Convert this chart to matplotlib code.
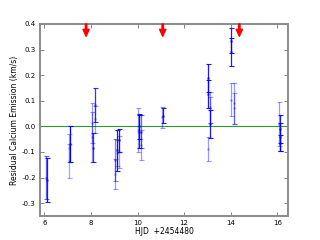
import matplotlib
matplotlib.use("Agg")
import matplotlib.pyplot as plt

plt.rcParams['axes.unicode_minus'] = False
plt.rcParams['font.family'] = ['DejaVu Sans']

# data: HJD - 2454480, residual emission, error, opacity
hjd = [6.08, 6.10,
       7.08, 7.07, 7.07,
       8.06, 8.06, 8.07, 8.17, 8.19,
       9.03, 9.03, 9.12, 9.13, 9.19, 9.20,
       10.03, 10.04, 10.04, 10.15, 10.15,
       11.06, 11.08,
       13.04, 13.04, 13.11, 13.13, 13.11, 13.04,
       14.02, 14.02, 14.00, 14.14, 14.14,
       16.09, 16.10, 16.10, 16.10]
resid = [-0.200, -0.210,
         -0.070, -0.135, -0.086,
         0.012, -0.043, -0.084, 0.084, 0.027,
         -0.132, -0.185, -0.093, -0.105, -0.054, -0.100,
         -0.015, 0.000, -0.020, -0.020, -0.073,
         0.035, 0.042,
         0.190, 0.125, 0.075, 0.065, 0.010, -0.088,
         0.335, 0.290, 0.105, 0.090, 0.070,
         0.010, -0.010, -0.040, -0.065]
err = [0.085, 0.085,
       0.070, 0.065, 0.055,
       0.078, 0.098, 0.057, 0.065, 0.054,
       0.082, 0.058, 0.080, 0.050, 0.045, 0.061,
       0.085, 0.050, 0.066, 0.064, 0.059,
       0.040, 0.030,
       0.055, 0.055, 0.060, 0.050, 0.055, 0.048,
       0.050, 0.055, 0.065, 0.080, 0.060,
       0.085, 0.055, 0.055, 0.030]
alphas = [0.6, 0.9,
          1.0, 0.35, 0.35,
          0.4, 0.4, 0.8, 0.8, 0.4,
          0.5, 0.4, 0.9, 0.4, 0.9, 0.4,
          0.4, 0.9, 0.9, 0.6, 0.4,
          0.4, 0.9,
          0.9, 0.9, 0.4, 0.4, 0.9, 0.4,
          0.9, 0.9, 0.4, 0.4, 0.4,
          0.4, 0.9, 0.9, 0.9]
arrow_x = [7.79, 11.08, 14.37]

fig = plt.figure(figsize=(3.2, 2.4), dpi=100)
ax = fig.add_axes([0.125, 0.1, 0.775, 0.8])

ax.axhline(0.0, color='#2e9a2e', lw=0.8, zorder=1)
for x, y, e, a in zip(hjd, resid, err, alphas):
    ax.errorbar(x, y, yerr=e, fmt='none', ecolor='#0000ff', elinewidth=0.9,
                capsize=1.8, capthick=0.8, alpha=a, zorder=2)
    ax.plot(x, y, 's', color='#0000ff', ms=1.6, mec='none', alpha=a, zorder=3)

for x in arrow_x:
    ax.annotate('', xy=(x, 0.352), xytext=(x, 0.4),
                arrowprops=dict(facecolor='red', edgecolor='red', width=1.0,
                                headwidth=4.5, headlength=5, shrink=0),
                annotation_clip=False, zorder=5)

ax.set_xlim(5.81, 16.46)
ax.set_ylim(-0.35, 0.4)
ax.set_xticks([6, 8, 10, 12, 14, 16])
ax.set_yticks([-0.3, -0.2, -0.1, 0.0, 0.1, 0.2, 0.3, 0.4])
ax.set_yticklabels(['-0.3', '-0.2', '-0.1', '0.0', '0.1', '0.2', '0.3', '0.4'])
ax.tick_params(direction='in', length=3, width=0.6, color='#707070',
               labelsize=5, top=True, right=True, pad=3)
for s in ax.spines.values():
    s.set_color('#8a8a8a')
    s.set_linewidth(1.4)
ax.set_xlabel('HJD  +2454480', fontsize=5.5, labelpad=0.5)
ax.set_ylabel('Residual Calcium Emission (km/s)', fontsize=5.5, labelpad=2)

fig.savefig('out.png', dpi=100)
